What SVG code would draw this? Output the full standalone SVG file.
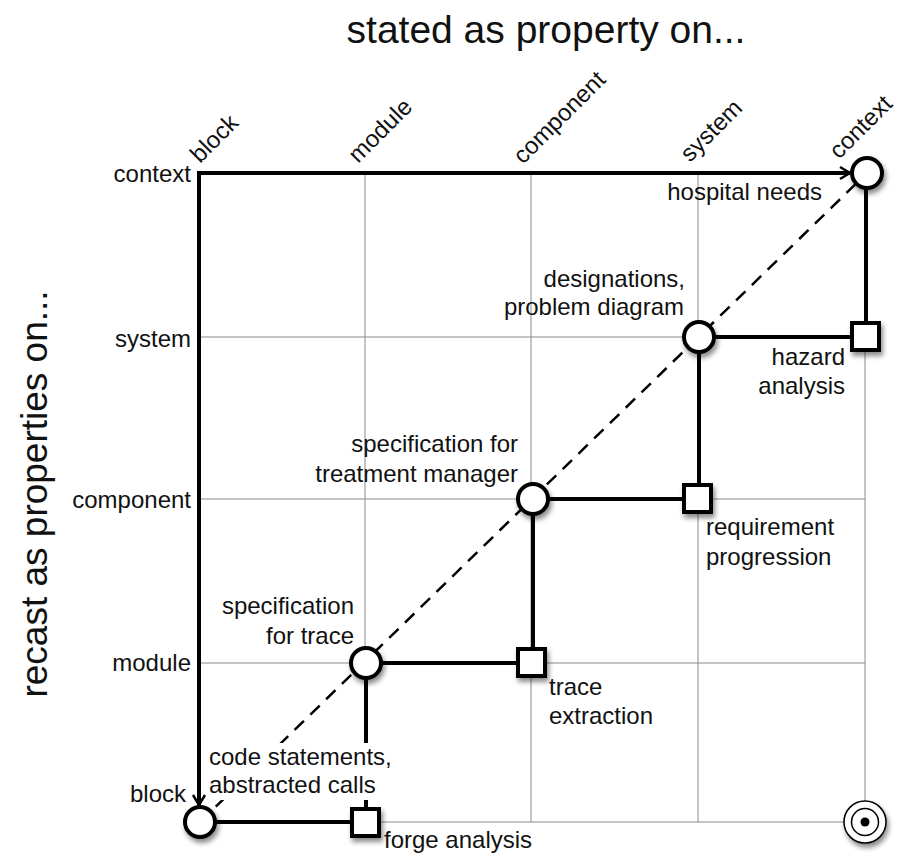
<svg xmlns="http://www.w3.org/2000/svg" width="898" height="858" viewBox="0 0 898 858">
  <style>
    text { font-family: "Liberation Sans", Arial, Helvetica, sans-serif; fill: #111; }
    .title { font-size: 39px; }
    .axis { font-size: 24px; }
    .lbl { font-size: 24px; }
    .grid { stroke: #8a8a8a; stroke-width: 1; fill: none; }
    .edge { stroke: #000; stroke-width: 4; fill: none; }
    .dash { stroke: #000; stroke-width: 2.5; fill: none; stroke-dasharray: 13 9; }
    .node { fill: #fff; stroke: #000; stroke-width: 4; filter: url(#shadow); }
    .end { text-anchor: end; }
  </style>
  <defs>
    <filter id="shadow" x="-50%" y="-50%" width="200%" height="200%">
      <feDropShadow dx="2" dy="4" stdDeviation="2.5" flood-color="#000" flood-opacity="0.45"/>
    </filter>
    <marker id="arrow" markerUnits="userSpaceOnUse" markerWidth="16" markerHeight="16" refX="13" refY="8" orient="auto">
      <path d="M3,2 L13,8 L3,14" fill="none" stroke="#000" stroke-width="2.5"/>
    </marker>
  </defs>

  <rect width="898" height="858" fill="#fff"/>

  <!-- titles -->
  <text class="title" x="546" y="43" text-anchor="middle">stated as property on...</text>
  <text class="title" transform="translate(47,494) rotate(-90)" text-anchor="middle" style="font-size:37px">recast as properties on...</text>

  <!-- column headings -->
  <g id="col-labels" class="axis">
    <text transform="translate(200,164) rotate(-45)">block</text>
    <text transform="translate(358,164) rotate(-45)">module</text>
    <text transform="translate(523,165) rotate(-45)">component</text>
    <text transform="translate(690,163) rotate(-45)">system</text>
    <text transform="translate(839,160) rotate(-45)">context</text>
  </g>

  <!-- row headings -->
  <g id="row-labels" class="axis end">
    <text x="191" y="182" text-anchor="end">context</text>
    <text x="191" y="347" text-anchor="end">system</text>
    <text x="191" y="508" text-anchor="end">component</text>
    <text x="191" y="671" text-anchor="end">module</text>
    <text x="186" y="802" text-anchor="end">block</text>
  </g>

  <!-- grid -->
  <g id="grid" class="grid">
    <line x1="365" y1="173" x2="365" y2="822"/>
    <line x1="531" y1="173" x2="531" y2="822"/>
    <line x1="698" y1="173" x2="698" y2="822"/>
    <line x1="865" y1="173" x2="865" y2="822"/>
    <line x1="199" y1="337" x2="865" y2="337"/>
    <line x1="199" y1="499" x2="865" y2="499"/>
    <line x1="199" y1="663" x2="865" y2="663"/>
    <line x1="199" y1="822" x2="865" y2="822"/>
  </g>

  <!-- connectors -->
  <g id="connectors">
    <line class="dash" x1="200" y1="822" x2="867" y2="173"/>
    <line class="edge" x1="199" y1="173" x2="850" y2="173" marker-end="url(#arrow)"/>
    <line class="edge" x1="199" y1="171" x2="199" y2="805" marker-end="url(#arrow)"/>
    <line class="edge" x1="866" y1="173" x2="866" y2="337"/>
    <line class="edge" x1="699" y1="337" x2="866" y2="337"/>
    <line class="edge" x1="699" y1="337" x2="699" y2="499"/>
    <line class="edge" x1="533" y1="499" x2="698" y2="499"/>
    <line class="edge" x1="533" y1="499" x2="533" y2="663"/>
    <line class="edge" x1="366" y1="663" x2="532" y2="663"/>
    <line class="edge" x1="366" y1="663" x2="366" y2="822"/>
    <line class="edge" x1="200" y1="822" x2="365" y2="822"/>
  </g>

  <!-- labels that sit over the lines -->
  <g id="code-label">
    <rect x="206" y="743" width="186" height="57" fill="#fff"/>
    <text class="lbl" x="209" y="765">code statements,</text>
    <text class="lbl" x="209" y="793">abstracted calls</text>
  </g>

  <!-- nodes -->
  <g id="hospital-needs">
    <circle class="node" cx="867" cy="173" r="15"/>
    <text class="lbl end" x="822" y="200">hospital needs</text>
  </g>
  <g id="hazard-analysis">
    <rect class="node" x="852" y="323" width="27" height="27"/>
    <text class="lbl end" x="845" y="365">hazard</text>
    <text class="lbl end" x="845" y="394">analysis</text>
  </g>
  <g id="designations">
    <circle class="node" cx="699" cy="337" r="15"/>
    <text class="lbl end" x="685" y="287">designations,</text>
    <text class="lbl end" x="684" y="315">problem diagram</text>
  </g>
  <g id="requirement-progression">
    <rect class="node" x="684" y="485" width="27" height="27"/>
    <text class="lbl" x="706" y="535">requirement</text>
    <text class="lbl" x="706" y="565">progression</text>
  </g>
  <g id="spec-treatment-manager">
    <circle class="node" cx="533" cy="499" r="15"/>
    <text class="lbl end" x="518" y="452">specification for</text>
    <text class="lbl end" x="518" y="482">treatment manager</text>
  </g>
  <g id="trace-extraction">
    <rect class="node" x="518" y="649" width="27" height="27"/>
    <text class="lbl" x="549" y="695">trace</text>
    <text class="lbl" x="549" y="724">extraction</text>
  </g>
  <g id="spec-trace">
    <circle class="node" cx="366" cy="663" r="15"/>
    <text class="lbl end" x="354" y="614">specification</text>
    <text class="lbl end" x="354" y="644">for trace</text>
  </g>
  <g id="forge-analysis">
    <rect class="node" x="352" y="809" width="27" height="27"/>
    <text class="lbl" x="384" y="848">forge analysis</text>
  </g>
  <g id="code-statements">
    <circle class="node" cx="200" cy="822" r="15"/>
  </g>
  <g id="target">
    <circle cx="865" cy="822" r="21" fill="#fff" stroke="#000" stroke-width="1.5" filter="url(#shadow)"/>
    <circle cx="865" cy="822" r="13.5" fill="none" stroke="#000" stroke-width="1.5"/>
    <circle cx="865" cy="822" r="4.5" fill="#000"/>
  </g>
</svg>
